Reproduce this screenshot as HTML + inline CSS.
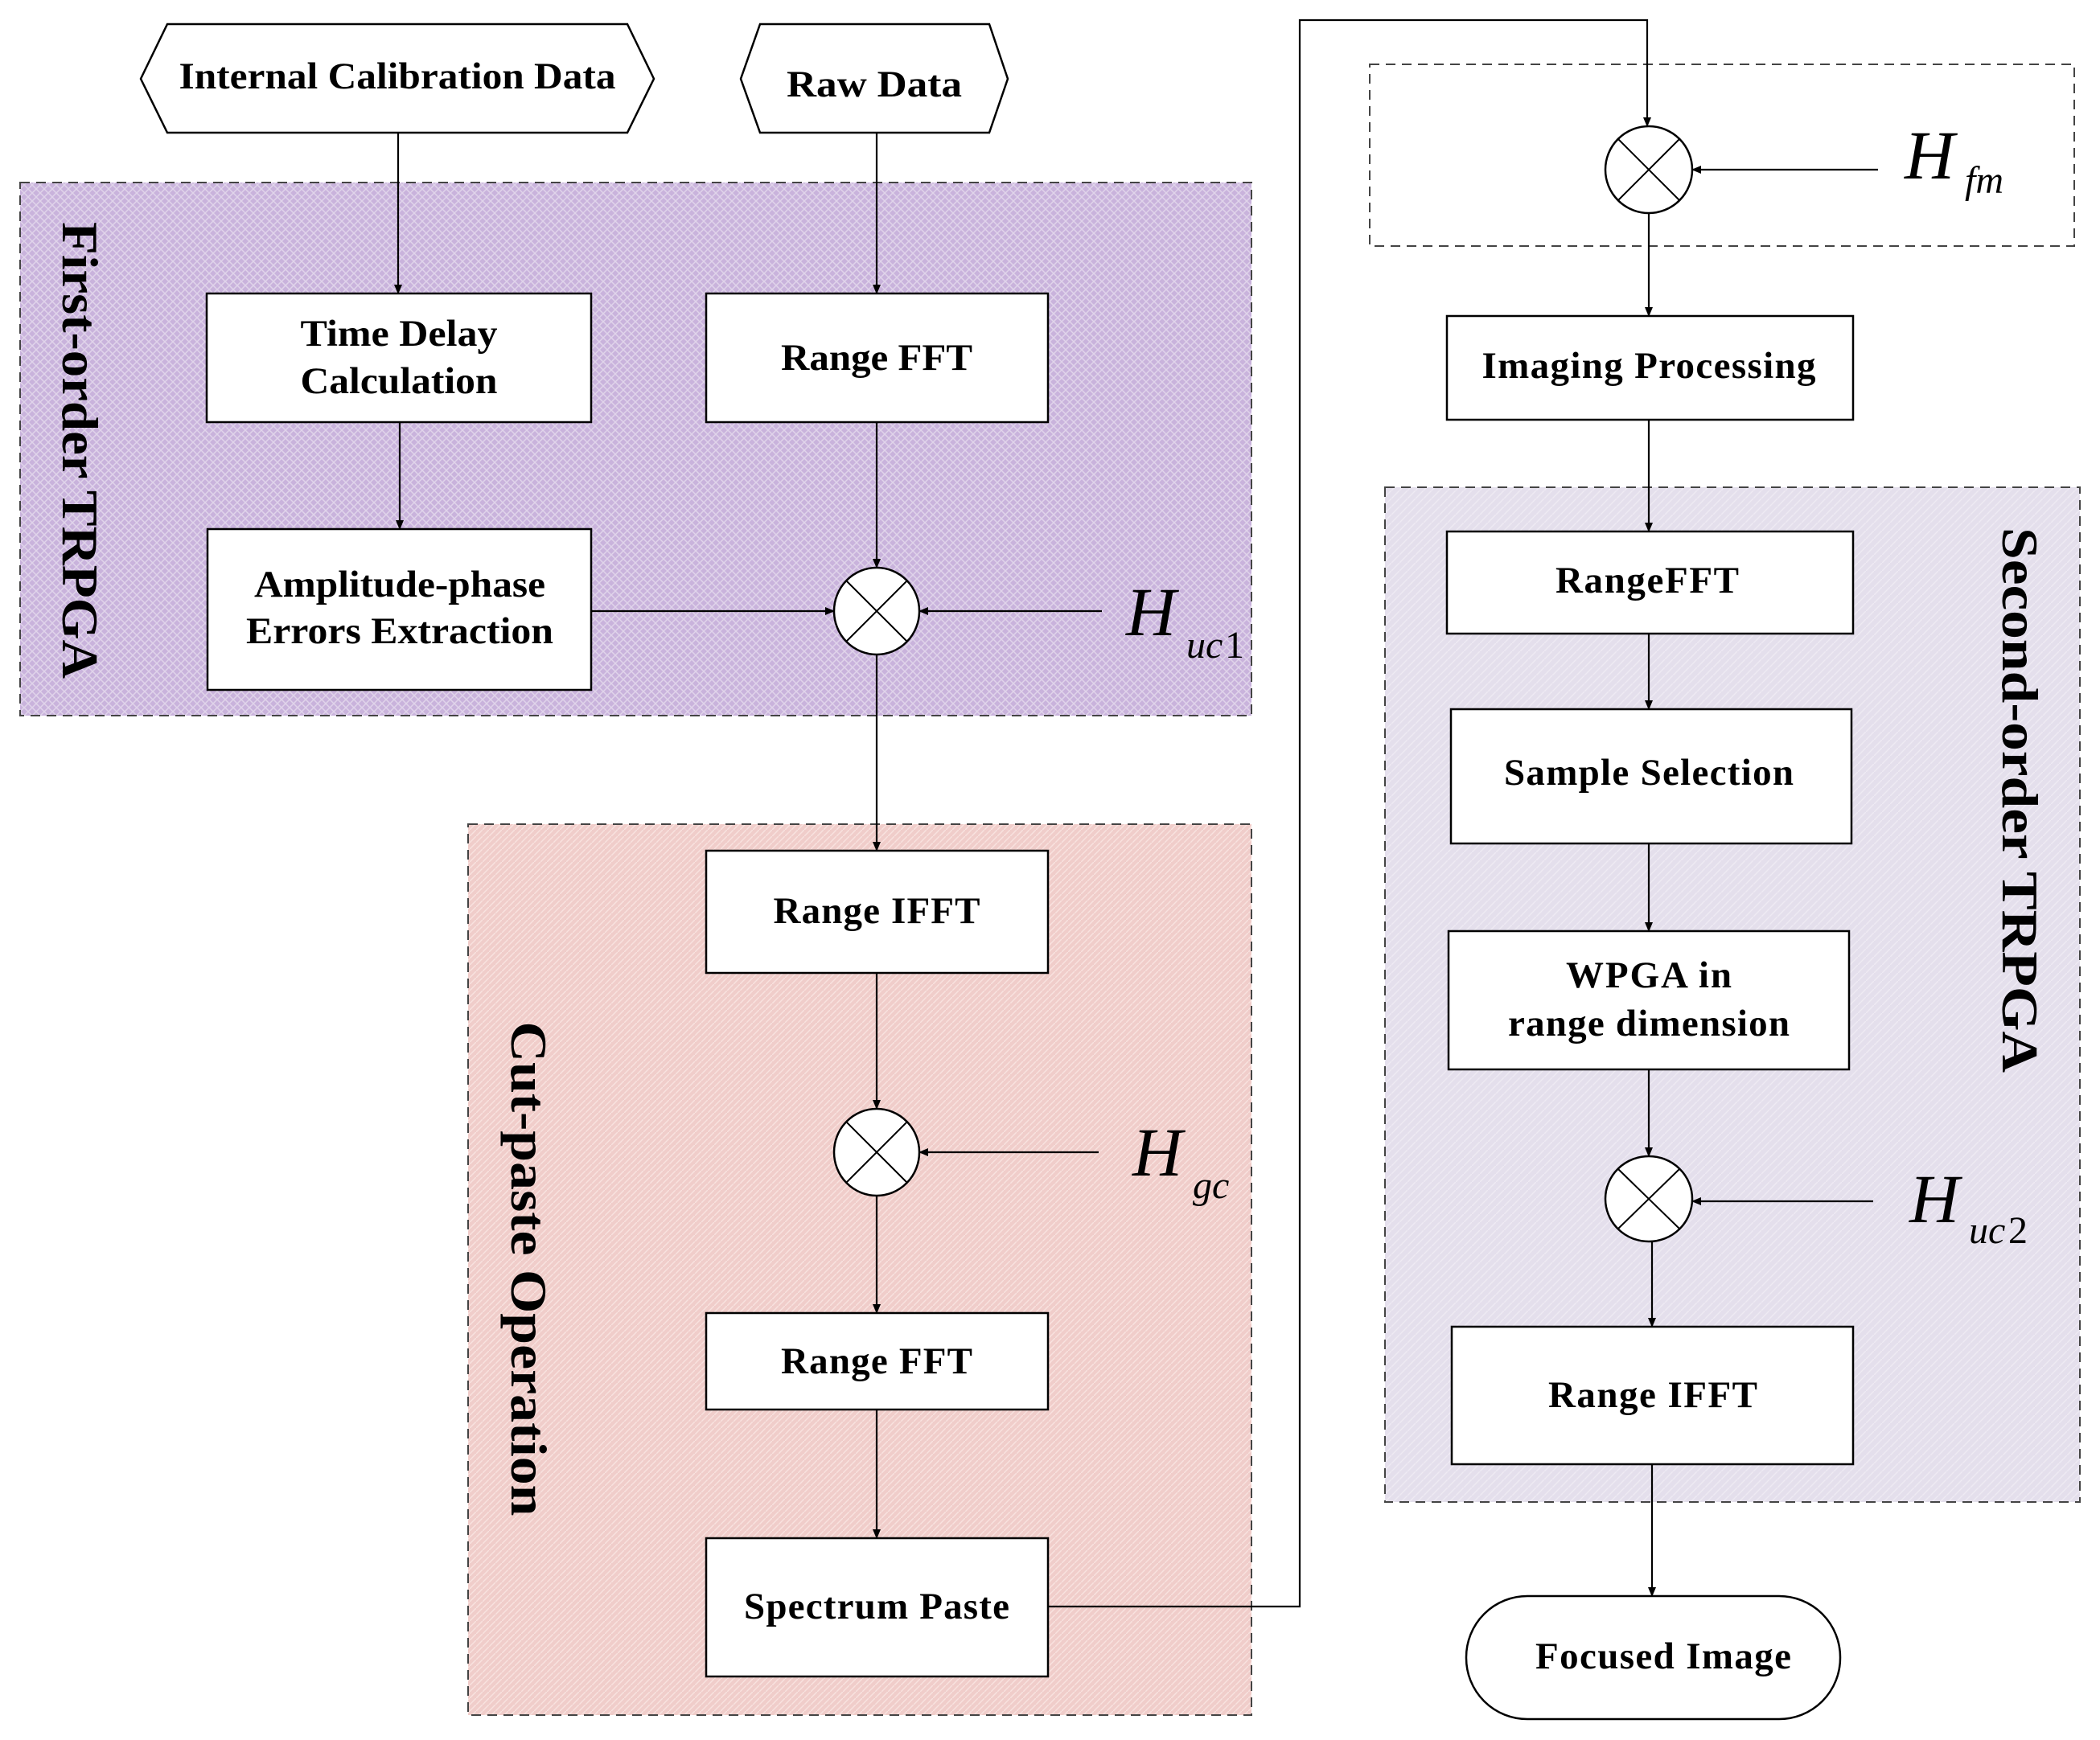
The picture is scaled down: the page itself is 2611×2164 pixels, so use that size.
<!DOCTYPE html>
<html><head><meta charset="utf-8"><style>
html,body{margin:0;padding:0;background:#fff}
svg{display:block}
text{font-family:"Liberation Serif",serif;font-weight:bold;fill:#000}
.b{font-size:47px;text-anchor:middle}
.h{font-style:italic;font-weight:normal;font-size:86px}
.s{font-style:italic;font-weight:normal;font-size:48px}
.r{font-size:64px;text-anchor:middle}
</style></head><body>
<svg width="2611" height="2164" viewBox="0 0 2611 2164" xmlns="http://www.w3.org/2000/svg">
<defs>
<marker id="a" markerWidth="12" markerHeight="10" refX="11" refY="5" orient="auto" markerUnits="userSpaceOnUse" viewBox="0 0 12 10"><path d="M0,0 L12,5 L0,10z" fill="#000"/></marker>
<pattern id="pp" width="10" height="10" patternUnits="userSpaceOnUse"><rect width="10" height="10" fill="#c9b3dc"/><path d="M0,0L10,10M10,0L0,10" stroke="#e0d4ea" stroke-width="1.5"/></pattern>
<pattern id="pk" width="8" height="8" patternUnits="userSpaceOnUse"><rect width="8" height="8" fill="#f0cdca"/><path d="M0,8L8,0" stroke="#f8e2df" stroke-width="1.5"/></pattern>
<pattern id="lv" width="10" height="10" patternUnits="userSpaceOnUse"><rect width="10" height="10" fill="#e4dfec"/><path d="M0,10L10,0" stroke="#eeeaf3" stroke-width="1.5"/></pattern>
</defs>
<g stroke="#444" stroke-width="2" stroke-dasharray="12,8">
<rect x="25" y="227" width="1531" height="663" fill="url(#pp)"/>
<rect x="582" y="1025" width="974" height="1108" fill="url(#pk)"/>
<rect x="1722" y="606" width="864" height="1262" fill="url(#lv)"/>
<rect x="1703" y="80" width="876" height="226" fill="none"/>
</g>
<g fill="#fff" stroke="#000" stroke-width="2.5">
<path d="M208,30 L780,30 L813,98 L780,165 L208,165 L175,98z"/>
<path d="M945,30 L1230,30 L1253,98 L1230,165 L945,165 L921,98z"/>
<rect x="257" y="365" width="478" height="160"/>
<rect x="878" y="365" width="425" height="160"/>
<rect x="258" y="658" width="477" height="200"/>
<rect x="878" y="1058" width="425" height="152"/>
<rect x="878" y="1633" width="425" height="120"/>
<rect x="878" y="1913" width="425" height="172"/>
<rect x="1799" y="393" width="505" height="129"/>
<rect x="1799" y="661" width="505" height="127"/>
<rect x="1804" y="882" width="498" height="167"/>
<rect x="1801" y="1158" width="498" height="172"/>
<rect x="1805" y="1650" width="499" height="171"/>
<rect x="1823" y="1985" width="465" height="153" rx="76"/>
</g>
<g fill="#fff" stroke="#000" stroke-width="2.5">
<ellipse cx="1090" cy="760" rx="53" ry="54"/>
<ellipse cx="1090" cy="1433" rx="53" ry="54"/>
<ellipse cx="2050" cy="211" rx="54" ry="54"/>
<ellipse cx="2050" cy="1491" rx="54" ry="53"/>
</g>
<g stroke="#000" stroke-width="2">
<path d="M1053,723L1127,797M1127,723L1053,797"/>
<path d="M1053,1396L1127,1470M1127,1396L1053,1470"/>
<path d="M2012,173L2088,249M2088,173L2012,249"/>
<path d="M2012,1454L2088,1528M2088,1454L2012,1528"/>
</g>
<g stroke="#000" stroke-width="2.2" fill="none" marker-end="url(#a)">
<path d="M495,165V365"/>
<path d="M1090,165V365"/>
<path d="M497,525V658"/>
<path d="M1090,525V706"/>
<path d="M735,760H1037"/>
<path d="M1370,760H1143"/>
<path d="M1090,814V1058"/>
<path d="M1090,1210V1379"/>
<path d="M1366,1433H1143"/>
<path d="M1090,1487V1633"/>
<path d="M1090,1753V1913"/>
<path d="M1303,1998H1616V25H2048V157"/>
<path d="M2335,211H2104"/>
<path d="M2050,265V393"/>
<path d="M2050,522V661"/>
<path d="M2050,788V882"/>
<path d="M2050,1049V1158"/>
<path d="M2050,1330V1438"/>
<path d="M2329,1494H2104"/>
<path d="M2054,1544V1650"/>
<path d="M2054,1821V1985"/>
</g>
<text class="b" x="494" y="110" textLength="543" lengthAdjust="spacingAndGlyphs">Internal Calibration Data</text>
<text class="b" x="1087" y="120" textLength="218" lengthAdjust="spacingAndGlyphs">Raw  Data</text>
<text class="b" x="496" y="430" textLength="245" lengthAdjust="spacingAndGlyphs">Time Delay</text>
<text class="b" x="496" y="489" textLength="245" lengthAdjust="spacingAndGlyphs">Calculation</text>
<text class="b" x="1090" y="460" textLength="238" lengthAdjust="spacingAndGlyphs">Range FFT</text>
<text class="b" x="497" y="742" textLength="362" lengthAdjust="spacingAndGlyphs">Amplitude-phase</text>
<text class="b" x="497" y="800" textLength="382" lengthAdjust="spacingAndGlyphs">Errors Extraction</text>
<text class="b" x="1090" y="1148" textLength="257">Range IFFT</text>
<text class="b" x="1090" y="1708" textLength="238">Range FFT</text>
<text class="b" x="1090" y="2013" textLength="330">Spectrum Paste</text>
<text class="b" x="2050" y="470" textLength="415">Imaging Processing</text>
<text class="b" x="2048" y="737" textLength="228">RangeFFT</text>
<text class="b" x="2050" y="976" textLength="360">Sample Selection</text>
<text class="b" x="2050" y="1228" textLength="206">WPGA in</text>
<text class="b" x="2050" y="1288" textLength="350">range dimension</text>
<text class="b" x="2055" y="1750" textLength="260">Range IFFT</text>
<text class="b" x="2068" y="2075" textLength="318">Focused Image</text>
<text class="h" x="1400" y="790">H</text><text class="s" x="1475" y="818">uc</text><text class="s" x="1523" y="818" style="font-style:normal">1</text>
<text class="h" x="1408" y="1462">H</text><text class="s" x="1483" y="1490">gc</text>
<text class="h" x="2368" y="222">H</text><text class="s" x="2443" y="240">fm</text>
<text class="h" x="2374" y="1520">H</text><text class="s" x="2448" y="1546">uc</text><text class="s" x="2497" y="1546" style="font-style:normal">2</text>
<text class="r" transform="translate(78,560) rotate(90)" textLength="568" lengthAdjust="spacingAndGlyphs">First-order TRPGA</text>
<text class="r" transform="translate(636,1578) rotate(90)" textLength="615" lengthAdjust="spacingAndGlyphs">Cut-paste Operation</text>
<text class="r" transform="translate(2490,995) rotate(90)" textLength="678" lengthAdjust="spacingAndGlyphs">Second-order TRPGA</text>
</svg>
</body></html>
